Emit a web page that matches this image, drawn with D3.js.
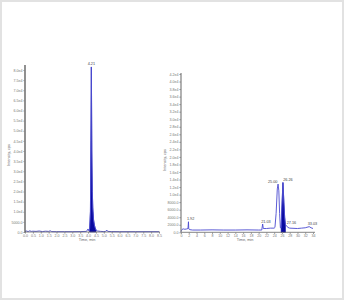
<!DOCTYPE html>
<html><head><meta charset="utf-8">
<script src="https://cdn.jsdelivr.net/npm/d3@7"></script>
<style>body{margin:0;background:#fff}svg{display:block}text{font-family:"Liberation Sans",Arial,sans-serif}</style>
</head><body>
<script>
// ---- Left chromatogram ----
const leftTime = [0.0,0.1,0.2,0.3,0.4,0.5,0.7,0.9,1.1,1.3,1.5,1.6,1.7,2.0,2.5,3.0,3.5,3.9,4.0,4.05,4.1,4.15,4.18,4.21,4.24,4.27,4.3,4.35,4.4,4.45,4.5,4.6,4.8,5.0,5.1,5.2,5.25,5.5,6.0,7.0,8.5];
const leftIntensity = [300,500,200,600,300,400,300,500,200,400,300,600,200,150,150,150,200,300,1500,600,1500,10000,45000,81500,40000,20000,12000,6000,3500,2000,1000,500,300,200,300,900,300,200,150,150,150];
const leftFillRange = [4.1,4.55];
const leftPeakLabels = [{t:4.21, v:81500, label:"4.21"}];
const leftYTicks = [0,5000,10000,15000,20000,25000,30000,35000,40000,45000,50000,55000,60000,65000,70000,75000,80000];
const leftYTickLabels = ["0.0","5000.0","1.0e4","1.5e4","2.0e4","2.5e4","3.0e4","3.5e4","4.0e4","4.5e4","5.0e4","5.5e4","6.0e4","6.5e4","7.0e4","7.5e4","8.0e4"];
const leftXTicks = [0.0,0.5,1.0,1.5,2.0,2.5,3.0,3.5,4.0,4.5,5.0,5.5,6.0,6.5,7.0,7.5,8.0,8.5];

// ---- Right chromatogram ----
const rightTime = [0,0.3,0.6,1.0,1.5,1.8,1.92,2.0,2.3,3,5,8,11,14,17,20,20.8,21.03,21.2,22,23,24,24.2,24.5,24.8,25.0,25.2,25.4,25.6,25.8,26.0,26.26,26.5,26.7,26.9,27.16,27.5,28,30,31,32,33.03,33.5,34];
const rightIntensity = [200,800,900,800,900,1000,2800,900,700,600,600,650,600,600,650,600,600,2200,1000,1000,1100,1100,1300,5000,11500,12800,11000,5000,1200,1200,7000,13200,8000,4000,2000,1800,1300,1100,1000,1100,1200,1500,1200,1000];
const rightFillRange = [25.75,27.0];
const rightPeakLabels = [{t:1.92,v:2800,label:"1.92"},{t:21.03,v:2200,label:"21.03"},{t:25.0,v:12800,label:"25.00"},{t:26.26,v:13200,label:"26.26"},{t:27.16,v:1800,label:"27.16"},{t:33.03,v:1500,label:"33.03"}];
const rightYTicks = d3.range(0,42001,2000);
const rightYTickLabels = ["0.0","2000.0","4000.0","6000.0","8000.0","1.0e4","1.2e4","1.4e4","1.6e4","1.8e4","2.0e4","2.2e4","2.4e4","2.6e4","2.8e4","3.0e4","3.2e4","3.4e4","3.6e4","3.8e4","4.0e4","4.2e4"];
const rightXTicks = d3.range(0,35,2);

const W=344,H=300;
const svg=d3.select("body").append("svg").attr("width",W).attr("height",H);
svg.append("rect").attr("x",1).attr("y",1).attr("width",W-2).attr("height",H-2).attr("fill","#fff").attr("stroke","#e2e2e2").attr("stroke-width",2);

function chart(cfg){
  const x=d3.scaleLinear().domain(cfg.xDomain).range(cfg.xRange);
  const y=d3.scaleLinear().domain(cfg.yDomain).range(cfg.yRange);
  const g=svg.append("g");
  const data=cfg.time.map((t,i)=>({t,v:cfg.val[i]}));
  const fillData=data.filter(d=>d.t>=cfg.fill[0]&&d.t<=cfg.fill[1]);
  g.append("path").datum(fillData).attr("fill","#0a0aa0").attr("stroke","#0a0aa0").attr("stroke-width",0.6)
    .attr("d",d3.area().x(d=>x(d.t)).y0(y(0)).y1(d=>y(d.v)));
  g.append("path").datum(data).attr("fill","none").attr("stroke","#4a4ad0").attr("stroke-width",0.9)
    .attr("d",d3.line().x(d=>x(d.t)).y(d=>y(d.v)));
  const ya=g.append("g").attr("transform",`translate(${cfg.xRange[0]},0)`)
    .call(d3.axisLeft(y).tickValues(cfg.yTicks).tickFormat((d,i)=>cfg.yLabels[i]).tickSize(1.5).tickPadding(1));
  ya.select(".domain").attr("stroke",cfg.axisColor).attr("stroke-width",1.3).attr("d",`M0,${cfg.yTop}V${y(0)}`);
  ya.selectAll(".tick line").attr("stroke","#888");
  ya.selectAll("text").attr("font-size",3.6).attr("fill","#777");
  const xa=g.append("g").attr("transform",`translate(0,${y(0)})`)
    .call(d3.axisBottom(x).tickValues(cfg.xTicks).tickFormat(cfg.xFmt).tickSize(1.5).tickPadding(1));
  xa.select(".domain").attr("stroke","#666").attr("stroke-width",0.8).attr("d",`M${cfg.xRange[0]},0H${cfg.xEnd}`);
  xa.selectAll(".tick line").attr("stroke","#888");
  xa.selectAll("text").attr("font-size",3.6).attr("fill","#777");
  g.append("text").attr("x",d3.mean(cfg.xRange)+cfg.xTitleDx).attr("y",y(0)+9).attr("text-anchor","middle").attr("font-size",3.8).attr("fill","#666").text("Time, min");
  g.append("text").attr("transform",`translate(${cfg.yTitleX},${cfg.yTitleY}) rotate(-90)`).attr("text-anchor","middle").attr("font-size",3.8).attr("fill","#666").text("Intensity, cps");
  // peak labels: when two neighbouring labels are close, push them apart
  const pk=cfg.peaks.map((d,i,a)=>{
    const px=x(d.t);
    const prev=a[i-1], next=a[i+1];
    let anchor="middle", dx=0;
    if(prev && px-x(prev.t)<10){anchor="start"; dx=0.2;}
    else if(next && x(next.t)-px<10){anchor="end"; dx=-0.6;}
    else if(d.v<3000){anchor="start"; dx=-1.5;}
    return {...d,px:px+dx,anchor};
  });
  g.selectAll(".pl").data(pk).join("text").attr("x",d=>d.px).attr("y",d=>y(d.v)-1.5).attr("text-anchor",d=>d.anchor).attr("font-size",3.8).attr("fill","#444").text(d=>d.label);
}

chart({time:leftTime,val:leftIntensity,fill:leftFillRange,peaks:leftPeakLabels,
  xDomain:[0,8.5],xRange:[25,159],yDomain:[0,80000],yRange:[232,70],yTop:65,xEnd:160,
  yTicks:leftYTicks,yLabels:leftYTickLabels,xTicks:leftXTicks,xFmt:d3.format(".1f"),
  axisColor:"#555",yTitleX:10,yTitleY:155,xTitleDx:-5});
chart({time:rightTime,val:rightIntensity,fill:rightFillRange,peaks:rightPeakLabels,
  xDomain:[0,34],xRange:[181,313],yDomain:[0,42000],yRange:[232.3,74],yTop:73,xEnd:315,
  yTicks:rightYTicks,yLabels:rightYTickLabels,xTicks:rightXTicks,xFmt:d3.format("d"),
  axisColor:"#888",yTitleX:166,yTitleY:160,xTitleDx:-2});
</script>
</body></html>
